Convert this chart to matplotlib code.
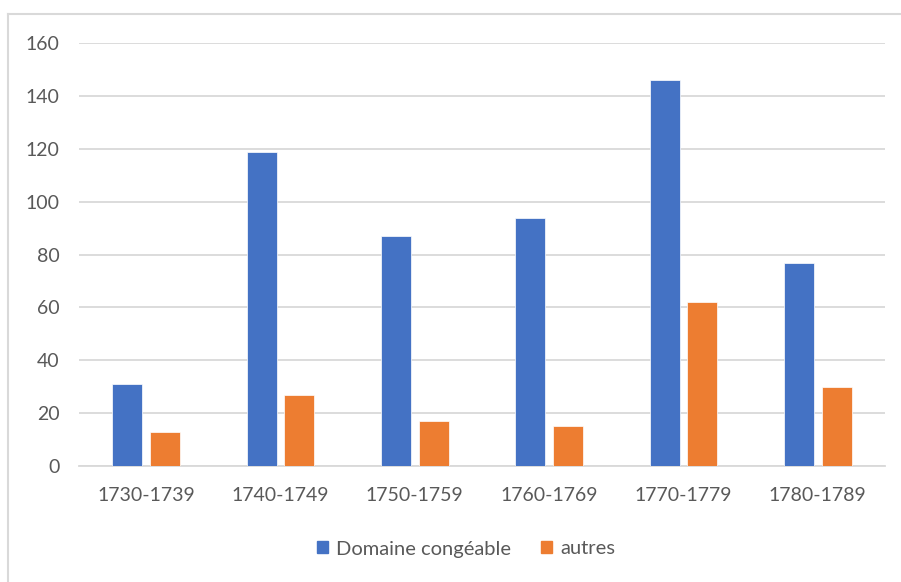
import numpy as np
import matplotlib
matplotlib.use("Agg")
import matplotlib.pyplot as plt
from matplotlib.lines import Line2D
from matplotlib.patches import Patch

# data
periods = ["1730-1739", "1740-1749", "1750-1759", "1760-1769", "1770-1779", "1780-1789"]
domaine = [31, 119, 87, 94, 146, 77]
autres = [13, 27, 17, 15, 62, 30]

blue = "#4472C4"
orange = "#ED7D31"
grid_col = "#D9D9D9"
txt_col = "#595959"

plt.rcParams['font.family'] = ['Lato', 'DejaVu Sans']

fig = plt.figure(figsize=(9.01, 5.82), dpi=100)
ax = fig.add_axes([79/901, 1-466/582, (885-79)/901, (466-43.3)/582])

x = np.arange(len(periods))
w = 0.225
ax.bar(x-0.14, domaine, w, color=blue, edgecolor="white", linewidth=0.5, zorder=3)
ax.bar(x+0.14, autres, w, color=orange, edgecolor="white", linewidth=0.5, zorder=3)

ax.set_xlim(-0.5, len(periods)-0.5)
ax.set_ylim(0, 160)
ax.set_yticks(np.arange(0, 161, 20))
ax.set_xticks(x)
ax.set_xticklabels(periods)
ax.yaxis.grid(True, color=grid_col, linewidth=1.3, zorder=0)
ax.set_axisbelow(True)
for s in ["top", "right", "left"]:
    ax.spines[s].set_visible(False)
ax.spines["bottom"].set_color(grid_col)
ax.spines["bottom"].set_linewidth(1.3)
ax.tick_params(axis="both", length=0, colors=txt_col, labelsize=14)
ax.tick_params(axis="y", pad=14)
ax.tick_params(axis="x", pad=15)

# legend below
handles = [Patch(color=blue), Patch(color=orange)]
fig.legend(handles, ["Domaine congéable", "autres"], loc="center", bbox_to_anchor=(466/901, 1-549/582),
           ncol=2, frameon=False, fontsize=14.5, handlelength=0.55, handleheight=0.55,
           handletextpad=0.4, columnspacing=1.5, labelcolor=txt_col)

# outer chart frame (left and top edges only visible)
fig.add_artist(Line2D([8/901, 8/901], [0, 1-14/582], color="#D9D9D9", linewidth=1.5, transform=fig.transFigure))
fig.add_artist(Line2D([8/901, 1], [1-14/582, 1-14/582], color="#D9D9D9", linewidth=1.5, transform=fig.transFigure))

fig.savefig("out.png", dpi=100)
